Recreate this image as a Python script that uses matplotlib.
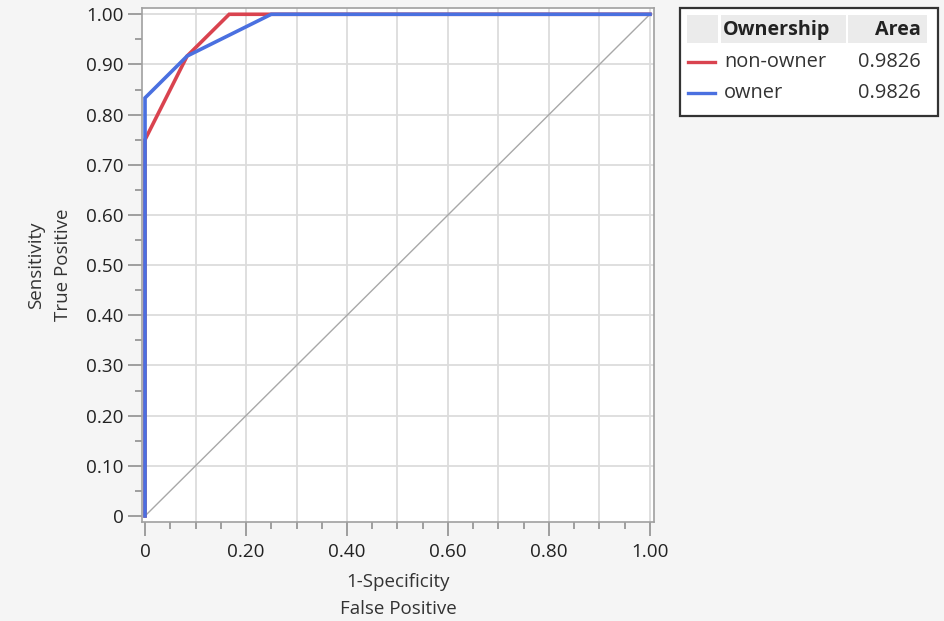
import matplotlib
matplotlib.use("Agg")
import matplotlib.pyplot as plt
from matplotlib.patches import Rectangle
from matplotlib.lines import Line2D
from matplotlib.ticker import MultipleLocator, FuncFormatter

plt.rcParams['font.family'] = ['Open Sans', 'DejaVu Sans']

# ROC points (1-specificity, sensitivity)
fpr_nonowner = [0, 0, 0.0833, 0.1667, 1.0]
tpr_nonowner = [0, 0.75, 0.9167, 1.0, 1.0]
fpr_owner = [0, 0, 0.0833, 0.25, 1.0]
tpr_owner = [0, 0.8333, 0.9167, 1.0, 1.0]
groups = ["non-owner", "owner"]
areas = ["0.9826", "0.9826"]
colors = ["#d9434f", "#4a70e0"]

fig = plt.figure(figsize=(9.45, 6.21), dpi=100, facecolor="#f5f5f5")
ax = fig.add_axes([142/945, 99/621, 512/945, 514/621])
ax.set_facecolor("white")

ax.plot([0, 1], [0, 1], color="#a8a8a8", lw=1.0, zorder=2)
ax.plot(fpr_nonowner, tpr_nonowner, color=colors[0], lw=2.6, zorder=3,
        solid_joinstyle="miter")
ax.plot(fpr_owner, tpr_owner, color=colors[1], lw=2.6, zorder=4,
        solid_joinstyle="miter")

ax.set_xlim(-0.006, 1.008)
ax.set_ylim(-0.012, 1.0125)

fmt = FuncFormatter(lambda v, p: "0" if abs(v) < 1e-9 else "%.2f" % v)
ax.xaxis.set_major_locator(MultipleLocator(0.2))
ax.xaxis.set_minor_locator(MultipleLocator(0.05))
ax.yaxis.set_major_locator(MultipleLocator(0.1))
ax.yaxis.set_minor_locator(MultipleLocator(0.05))
ax.xaxis.set_major_formatter(fmt)
ax.yaxis.set_major_formatter(fmt)

ax.tick_params(axis="both", which="major", length=10, width=1.2, color="#909090",
               labelsize=13.6, labelcolor="#222222", pad=3)
ax.tick_params(axis="x", which="major", pad=5)
ax.tick_params(axis="both", which="minor", length=5, width=1.2, color="#909090")

for x in [i / 10 for i in range(1, 11)]:
    ax.axvline(x, color="#dcdcdc", lw=1.3, zorder=1)
for y in [i / 10 for i in range(1, 11)]:
    ax.axhline(y, color="#dcdcdc", lw=1.3, zorder=1)

for s in ax.spines.values():
    s.set_color("#a0a0a0")
    s.set_linewidth(1.2)

ax.set_xlabel("1-Specificity\nFalse Positive", fontsize=13.5, color="#333333",
              linespacing=1.65, labelpad=9)
ax.set_ylabel("Sensitivity\nTrue Positive", fontsize=13.5, color="#333333",
              linespacing=1.7, labelpad=10)

# legend table
W, H = 945, 621
def fx(px):
    return px / W
def fy(py):
    return 1 - py / H

fig.patches.append(Rectangle((fx(680), fy(116)), fx(938) - fx(680), fy(8) - fy(116),
                             transform=fig.transFigure, facecolor="white",
                             edgecolor="#333333", lw=1.6))
for x0, x1 in [(687, 718), (721, 846), (848, 927)]:
    fig.patches.append(Rectangle((fx(x0), fy(43)), fx(x1) - fx(x0), fy(15) - fy(43),
                                 transform=fig.transFigure, facecolor="#ebebeb",
                                 edgecolor="none"))
fig.text(fx(723), fy(30), "Ownership", fontsize=14.2, fontweight="bold",
         color="#222222", va="center", ha="left")
fig.text(fx(921), fy(30), "Area", fontsize=14.2, fontweight="bold",
         color="#222222", va="center", ha="right")
for i, (g, a, c) in enumerate(zip(groups, areas, colors)):
    yy = 62 + i * 31
    fig.lines.append(Line2D([fx(688), fx(715)], [fy(yy), fy(yy)],
                            transform=fig.transFigure, color=c, lw=2.4))
    fig.text(fx(724), fy(yy), g, fontsize=14.4, color="#333333",
             va="center", ha="left")
    fig.text(fx(921), fy(yy), a, fontsize=14.4, color="#333333",
             va="center", ha="right")

fig.savefig("out.png", dpi=100, facecolor=fig.get_facecolor())
